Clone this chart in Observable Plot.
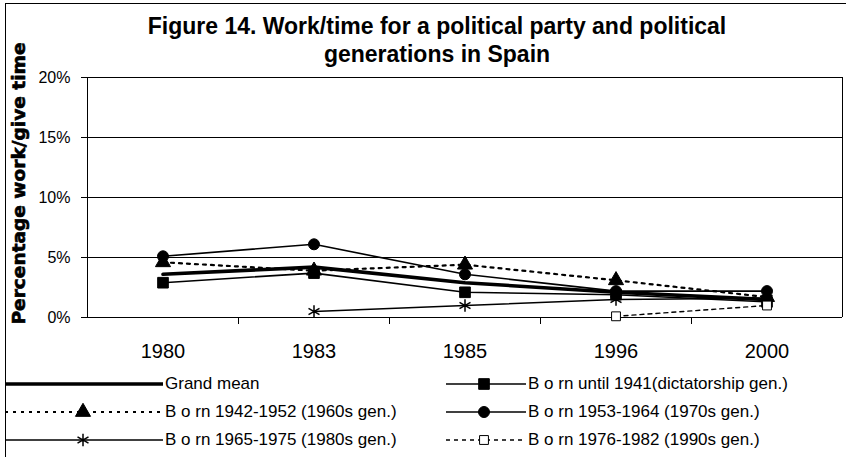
<!DOCTYPE html>
<html><head><meta charset="utf-8">
<script src="https://cdn.jsdelivr.net/npm/d3@7"></script>
<script src="https://cdn.jsdelivr.net/npm/@observablehq/plot@0.6"></script>
<style>
html,body{margin:0;padding:0;background:#fff;}
#chart{position:relative;width:846px;height:457px;overflow:hidden;font-family:"Liberation Sans",Arial,sans-serif;color:#000;}
#frame{position:absolute;left:5px;top:3px;width:900px;height:500px;border-left:1.5px solid #000;border-top:1.5px solid #000;}
#title{position:absolute;left:0;width:874px;top:12px;text-align:center;font-weight:bold;font-size:23px;line-height:28px;}
#plot{position:absolute;left:0;top:0;}
.leg{position:absolute;height:20px;display:flex;align-items:center;font-size:17px;white-space:nowrap;}
.leg svg{display:block;overflow:visible;}
</style></head><body>
<div id="chart"><div id="frame"></div><div id="plot"></div>
<div id="title">Figure 14. Work/time for a political party and political<br>generations in Spain</div>
<div id="legend"></div></div>
<script>
const years = ["1980", "1983", "1985", "1996", "2000"];
const yTicks = [0, 5, 10, 15, 20];
const grandMean    = [3.6, 4.2, 2.9, 2.1, 1.5];
const dictatorship = [2.9, 3.7, 2.1, 1.9, 1.3];
const gen1960s     = [4.6, 3.9, 4.4, 3.1, 1.7];
const gen1970s     = [5.1, 6.1, 3.6, 2.2, 2.2];
const gen1980s     = [null, 0.5, 1.0, 1.5, 1.6];
const gen1990s     = [null, null, null, 0.1, 1.0];
const seriesNames = [
  "Grand mean",
  "B o rn until 1941(dictatorship gen.)",
  "B o rn 1942-1952 (1960s gen.)",
  "B o rn 1953-1964 (1970s gen.)",
  "B o rn 1965-1975 (1980s gen.)",
  "B o rn 1976-1982 (1990s gen.)"
];
const yLabel = "Percentage work/give time";

const series = [
  {name: seriesNames[0], values: grandMean, width: 3.6, dash: null, symbol: null},
  {name: seriesNames[1], values: dictatorship, width: 1.6, dash: null, symbol: "square", r: 6, fill: "black", stroke: "black"},
  {name: seriesNames[2], values: gen1960s, width: 2.2, dash: "3,5", symbol: "triangle", r: 5.6, fill: "black", stroke: "black"},
  {name: seriesNames[3], values: gen1970s, width: 1.6, dash: null, symbol: "circle", r: 5.5, fill: "black", stroke: "black"},
  {name: seriesNames[4], values: gen1980s, width: 1.4, dash: null, symbol: "asterisk", r: 6, fill: "none", stroke: "black"},
  {name: seriesNames[5], values: gen1990s, width: 1.4, dash: "4,4", symbol: "square", r: 5, fill: "white", stroke: "black"}
];
series.forEach(s => {
  s.rows = s.values.map((v, i) => ({series: s.name, i, year: years[i], value: v})).filter(d => d.value != null);
});

const marks = [
  Plot.ruleY(yTicks.filter(d => d > 0), {stroke: "black", strokeWidth: 1}),
  Plot.ruleX([-0.5, 4.5], {y1: 0, y2: 20, stroke: "black", strokeWidth: 1}),
  Plot.axisY({ticks: yTicks, tickFormat: d => d + "%", tickSize: 6, tickPadding: 11, fontSize: 16, label: null}),
  Plot.axisX({ticks: [0.5, 1.5, 2.5, 3.5], tickSize: 7, tickFormat: () => "", label: null}),
  Plot.axisX({ticks: [0, 1, 2, 3, 4], tickSize: 0, tickPadding: 26, tickFormat: i => years[i], fontSize: 20, label: null}),
  Plot.ruleY([0], {stroke: "black", strokeWidth: 1.2}),
  Plot.text([yLabel], {frameAnchor: "left", rotate: -90, dx: -68, dy: -14, textAnchor: "middle", lineAnchor: "middle", fontSize: 17, fontWeight: "bold", fontFamily: "DejaVu Sans", stroke: "black", strokeWidth: 0.6, fill: "black", className: "ylab"})
];
for (const s of series) {
  marks.push(Plot.line(s.rows, {x: "i", y: "value", stroke: "black", strokeWidth: s.width, strokeDasharray: s.dash || undefined}));
}
for (const s of series) {
  if (s.symbol) marks.push(Plot.dot(s.rows, {x: "i", y: "value", symbol: s.symbol, r: s.r, fill: s.fill, stroke: s.stroke, strokeWidth: s.symbol === "asterisk" ? 1.5 : 1}));
}

const chart = Plot.plot({
  width: 846, height: 457,
  marginLeft: 87, marginRight: 4, marginTop: 77, marginBottom: 140,
  style: {fontFamily: "'Liberation Sans', Arial, sans-serif", color: "black", background: "transparent", overflow: "visible"},
  x: {type: "linear", domain: [-0.5, 4.5]},
  y: {type: "linear", domain: [0, 20]},
  marks
});
document.getElementById("plot").appendChild(chart);
d3.select(chart).selectAll(".ylab text").attr("textLength", 282).attr("lengthAdjust", "spacingAndGlyphs").attr("paint-order", "normal");

// Legend
const legendPos = [
  {left: 5, top: 374, w: 158, cx: 78},
  {left: 446, top: 374, w: 80, cx: 38},
  {left: 5, top: 402, w: 158, cx: 78},
  {left: 446, top: 402, w: 80, cx: 38},
  {left: 5, top: 430, w: 158, cx: 78},
  {left: 446, top: 430, w: 80, cx: 38}
];
const symMap = {square: d3.symbolSquare, triangle: d3.symbolTriangle, circle: d3.symbolCircle, asterisk: d3.symbolAsterisk};
const legend = d3.select("#legend");
series.forEach((s, k) => {
  const p = legendPos[k];
  const div = legend.append("div").attr("class", "leg").style("left", p.left + "px").style("top", p.top + "px");
  const svg = div.append("svg").attr("width", p.w).attr("height", 20);
  svg.append("line").attr("x1", 0).attr("x2", p.w).attr("y1", 10).attr("y2", 10)
    .attr("stroke", "black").attr("stroke-width", s.width).attr("stroke-dasharray", s.dash);
  if (s.symbol) {
    svg.append("path").attr("transform", `translate(${p.cx},10)`)
      .attr("d", d3.symbol(symMap[s.symbol], Math.PI * s.r * s.r)())
      .attr("fill", s.fill).attr("stroke", s.stroke).attr("stroke-width", s.symbol === "asterisk" ? 1.5 : 1);
  }
  div.append("span").style("margin-left", "2px").text(s.name);
});
</script>
</body></html>
